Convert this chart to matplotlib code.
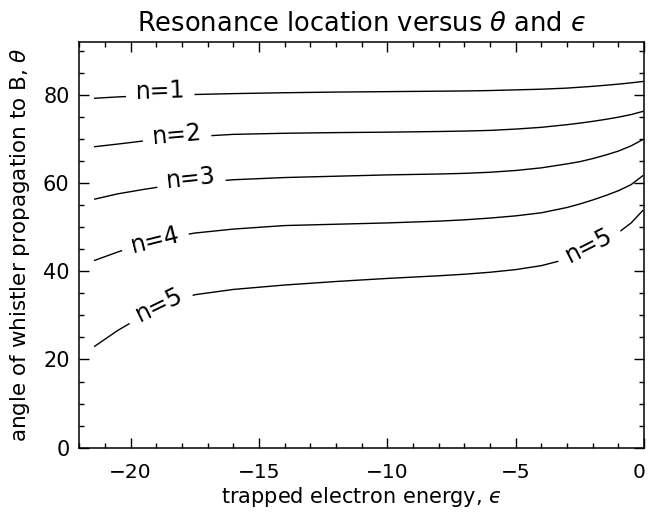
import matplotlib
matplotlib.use("Agg")
import matplotlib.pyplot as plt
import matplotlib.transforms as mtransforms
from matplotlib.ticker import MultipleLocator

# ---- data ----
energy = [-21.4, -20.5, -19.5, -18.5, -17.5, -16, -14, -12, -10, -8, -7, -6,
          -5, -4, -3, -2.5, -2, -1.5, -1, -0.5, -0.05]
theta_n1 = [79.3, 79.6, 79.85, 80.0, 80.15, 80.35, 80.55, 80.7, 80.8, 80.9,
            80.95, 81.05, 81.2, 81.35, 81.6, 81.8, 82.0, 82.25, 82.5, 82.8, 83.1]
theta_n2 = [68.3, 68.9, 69.6, 70.2, 70.6, 71.1, 71.35, 71.5, 71.6, 71.75,
            71.85, 72.0, 72.3, 72.7, 73.3, 73.65, 74.05, 74.5, 75.0, 75.6, 76.3]
theta_n3 = [56.4, 57.6, 58.6, 59.5, 60.1, 60.8, 61.3, 61.6, 61.9, 62.1,
            62.25, 62.5, 62.9, 63.5, 64.4, 64.9, 65.6, 66.4, 67.3, 68.5, 69.9]
theta_n4 = [42.5, 44.4, 46.3, 47.7, 48.7, 49.6, 50.4, 50.7, 51.0, 51.4,
            51.7, 52.1, 52.6, 53.3, 54.5, 55.3, 56.2, 57.2, 58.3, 59.7, 61.7]
theta_n5 = [23.0, 26.6, 30.0, 32.8, 34.7, 35.9, 36.9, 37.7, 38.4, 39.0,
            39.35, 39.8, 40.4, 41.3, 42.8, 43.9, 45.2, 46.8, 48.8, 51.0, 53.8]
series = [theta_n1, theta_n2, theta_n3, theta_n4, theta_n5]

label_text = ["n=1", "n=2", "n=3", "n=4", "n=5", "n=5"]
label_x = [-18.85, -18.2, -17.65, -19.05, -18.9, -2.15]
label_y = [80.8, 70.9, 61.0, 47.0, 32.4, 46.0]
label_rot = [2, 5, 6, 14, 26, 27]

xticks = [-20, -15, -10, -5, 0]
yticks = [0, 20, 40, 60, 80]

title = "Resonance location versus $\\theta$ and $\u03f5$"
xlabel = "trapped electron energy, $\u03f5$"
ylabel = "angle of whistler propagation to B, $\\theta$"

# ---- figure ----
plt.rcParams["font.family"] = ["DejaVu Sans"]
plt.rcParams["mathtext.fontset"] = "dejavusans"
fig = plt.figure(figsize=(6.49, 5.12), dpi=100)
ax = fig.add_axes([0.1222, 0.1258, 0.9923 - 0.1222, 0.9174 - 0.1258])

for ys in series:
    ax.plot(energy, ys, color="black", lw=1.0, zorder=2)

for t, x, y, r in zip(label_text, label_x, label_y, label_rot):
    ax.text(x, y, t, rotation=r, rotation_mode="anchor", ha="center",
            va="center", fontsize=17, color="black", zorder=3,
            bbox=dict(boxstyle="square,pad=0.4", fc="white", ec="none"))

ax.set_xlim(-22, 0)
ax.set_ylim(0, 92)
ax.set_xticks(xticks)
ax.set_yticks(yticks)
ax.set_xticklabels([("\u2212%d" % abs(v)) if v < 0 else str(v) for v in xticks])
ax.xaxis.set_minor_locator(MultipleLocator(1))
ax.yaxis.set_minor_locator(MultipleLocator(5))
ax.tick_params(which="both", direction="in", top=True, right=True,
               width=1.0, color="black")
ax.tick_params(which="major", length=7.2, labelsize=15)
ax.tick_params(axis="x", which="major", labelsize=14.5)
ax.tick_params(which="minor", length=3.6)
ax.tick_params(axis="x", which="major", pad=11)
ax.tick_params(axis="y", which="major", pad=7)
for s in ax.spines.values():
    s.set_linewidth(1.1)

# keep the right-most "0" label inside the figure, as in the reference
last = ax.get_xticklabels()[-1]
last.set_transform(last.get_transform() +
                   mtransforms.ScaledTranslation(-5 / 100, 0, fig.dpi_scale_trans))

ax.set_title(title, fontsize=18.5, pad=8)
ax.set_xlabel(xlabel, fontsize=15, labelpad=2)
ax.set_ylabel(ylabel, fontsize=15.5, labelpad=8)

fig.savefig("out.png", dpi=100)
